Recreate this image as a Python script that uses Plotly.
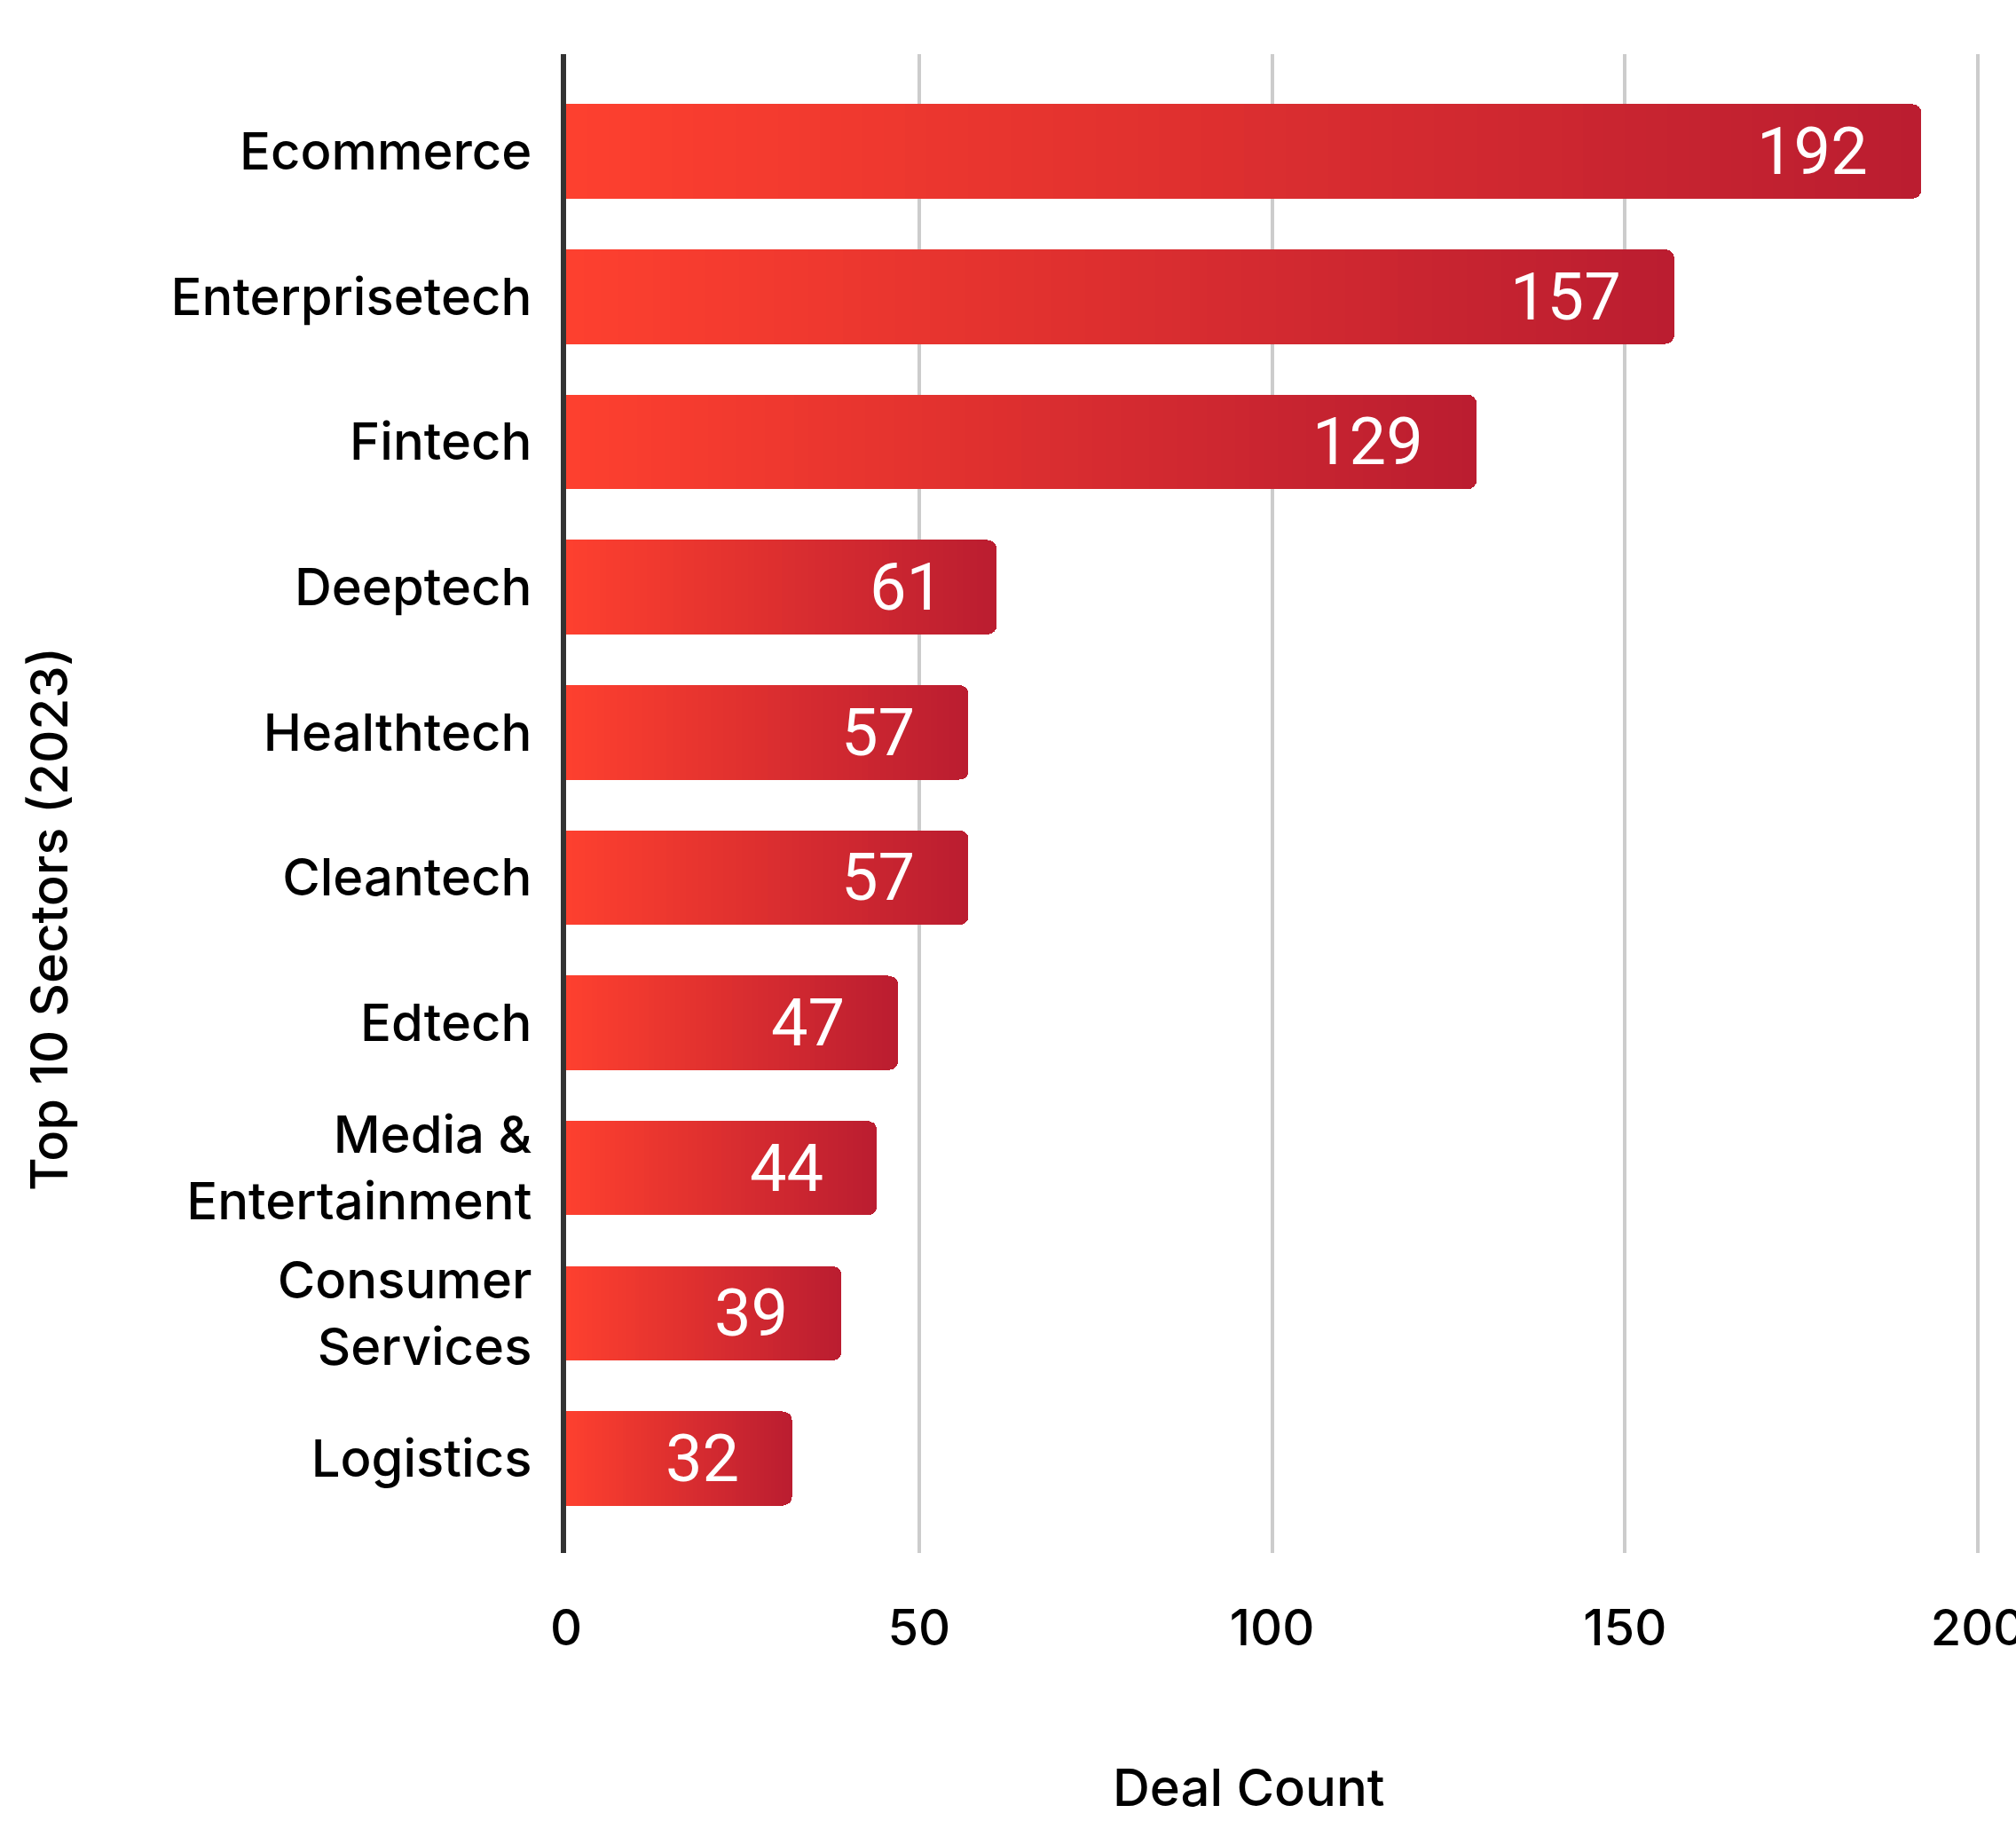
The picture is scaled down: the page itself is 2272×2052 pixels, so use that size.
import plotly.graph_objects as go

# Deal counts by sector, 2023
sectors = [
    "Ecommerce", "Enterprisetech", "Fintech", "Deeptech", "Healthtech",
    "Cleantech", "Edtech", "Media & Entertainment", "Consumer Services", "Logistics",
]
sector_labels = [
    "Ecommerce", "Enterprisetech", "Fintech", "Deeptech", "Healthtech",
    "Cleantech", "Edtech", "Media &<br>Entertainment", "Consumer<br>Services", "Logistics",
]
deal_counts = [192, 157, 129, 61, 57, 57, 47, 44, 39, 32]
x_ticks = [0, 50, 100, 150, 200]

# Horizontal gradient for every bar: bright red at the base, deep crimson at the tip.
GRAD_START = (254, 64, 47)
GRAD_END = (186, 29, 48)
N_STEPS = 64

LABEL_FONT = dict(family="Inter", size=58, color="black", weight=500)

fig = go.Figure()
for i in range(N_STEPS):
    t = (i + 0.5) / N_STEPS
    rgb = tuple(round(a + (b - a) * t) for a, b in zip(GRAD_START, GRAD_END))
    fig.add_trace(go.Bar(
        y=sectors,
        x=[v / N_STEPS for v in deal_counts],
        orientation="h",
        marker=dict(color="rgb(%d,%d,%d)" % rgb, line=dict(width=0)),
        hoverinfo="skip",
        showlegend=False,
    ))

# Value labels inside the bar ends
for s, v in zip(sectors, deal_counts):
    fig.add_annotation(
        x=v, y=s, xref="x", yref="y", text=str(v),
        xanchor="right", yanchor="middle", xshift=-58, showarrow=False,
        font=dict(family="Roboto", size=74, color="white"),
    )

# Axis titles
fig.add_annotation(
    x=-0.3646, y=0.4227, xref="paper", yref="paper", text="Top 10 Sectors (2023)",
    textangle=-90, xanchor="center", yanchor="middle", showarrow=False,
    font=LABEL_FONT,
)
fig.add_annotation(
    x=0.481, y=-0.1565, xref="paper", yref="paper", text="Deal Count",
    xanchor="center", yanchor="middle", showarrow=False,
    font=LABEL_FONT,
)

fig.update_layout(
    width=2272, height=2052,
    template="none",
    barmode="stack",
    bargap=0.35,
    barcornerradius=10,
    paper_bgcolor="white",
    plot_bgcolor="white",
    margin=dict(l=638, r=35, t=61, b=302),
    font=dict(family="Inter", color="black"),
)
fig.update_xaxes(
    range=[0, 201], tickvals=x_ticks,
    showgrid=True, gridcolor="#cccccc", gridwidth=4,
    zeroline=False, showline=False,
    ticks="outside", ticklen=36, tickcolor="rgba(0,0,0,0)",
    tickfont=dict(family="Inter", size=56, color="black", weight=500),
    ticklabeloverflow="allow",
    automargin=False,
)
fig.update_yaxes(
    categoryorder="array", categoryarray=sectors,
    tickvals=sectors, ticktext=sector_labels,
    range=[9.65, -0.67],
    showgrid=False, zeroline=False,
    showline=True, linecolor="#333333", linewidth=6,
    layer="below traces",
    ticks="outside", ticklen=21, tickcolor="rgba(0,0,0,0)",
    tickfont=LABEL_FONT,
    automargin=False,
)

fig.write_html("out.html")
